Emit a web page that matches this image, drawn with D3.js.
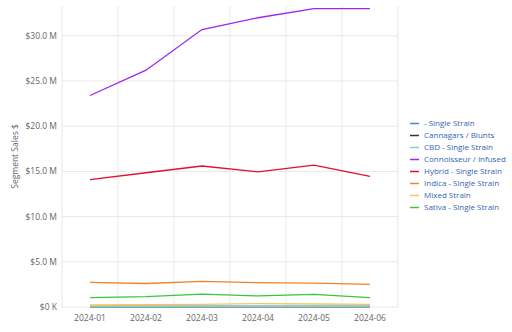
<!DOCTYPE html>
<html>
<head>
<meta charset="utf-8">
<script src="https://cdn.jsdelivr.net/npm/d3@7"></script>
<style>
  html, body { margin: 0; padding: 0; background: #fff; }
  svg { display: block; font-family: "Open Sans", sans-serif; }
</style>
</head>
<body>
<svg id="chart" width="512" height="332"></svg>
<script>
// Monthly segment sales (USD)
const months = ["2024-01", "2024-02", "2024-03", "2024-04", "2024-05", "2024-06"];
const segments = [
  "- Single Strain", "Cannagars / Blunts", "CBD - Single Strain", "Connoisseur / Infused",
  "Hybrid - Single Strain", "Indica - Single Strain", "Mixed Strain", "Sativa - Single Strain"
];
const singleStrain   = [0.10e6, 0.10e6, 0.10e6, 0.10e6, 0.10e6, 0.10e6];
const cannagars      = [0.02e6, 0.02e6, 0.02e6, 0.02e6, 0.02e6, 0.02e6];
const cbd            = [0.04e6, 0.04e6, 0.04e6, 0.04e6, 0.04e6, 0.04e6];
const connoisseur    = [23.4e6, 26.2e6, 30.7e6, 32.0e6, 33.0e6, 33.0e6];
const hybrid         = [14.1e6, 14.85e6, 15.6e6, 14.95e6, 15.7e6, 14.45e6];
const indica         = [2.72e6, 2.6e6, 2.83e6, 2.7e6, 2.65e6, 2.5e6];
const mixed          = [0.22e6, 0.25e6, 0.3e6, 0.38e6, 0.33e6, 0.3e6];
const sativa         = [1.03e6, 1.14e6, 1.42e6, 1.22e6, 1.39e6, 1.03e6];
const yTicks = [0, 5e6, 10e6, 15e6, 20e6, 25e6, 30e6];

const seriesValues = [singleStrain, cannagars, cbd, connoisseur, hybrid, indica, mixed, sativa];
const colors = ["#4a86d8", "#333333", "#7fd3c6", "#9b27f0", "#e0102e", "#f0832e", "#f5c851", "#3cc43c"];

const svg = d3.select("#chart");
const margin = { top: 6, left: 62, right: 398, bottom: 307 };

const x = d3.scaleBand().domain(months).range([margin.left, margin.right]);
const y = d3.scaleLinear().domain([0, 33.3e6]).range([margin.bottom, margin.top]);

// grid
const grid = svg.append("g");
grid.selectAll("line.h").data(yTicks).join("line")
  .attr("x1", margin.left).attr("x2", margin.right)
  .attr("y1", d => y(d)).attr("y2", d => y(d))
  .attr("stroke", "#e8e8e8").attr("stroke-width", 1);
const bounds = months.map(m => x(m)).concat([margin.right]);
grid.selectAll("line.v").data(bounds).join("line")
  .attr("x1", d => d).attr("x2", d => d)
  .attr("y1", margin.top).attr("y2", margin.bottom)
  .attr("stroke", "#e8e8e8").attr("stroke-width", 1);

// y axis labels
const fmt = d => d === 0 ? "$0 K" : "$" + (d / 1e6).toFixed(1) + " M";
svg.append("g").selectAll("text").data(yTicks).join("text")
  .attr("x", 57).attr("y", d => y(d)).attr("dy", "0.35em")
  .attr("text-anchor", "end").attr("font-size", 8.5).attr("fill", "#666")
  .text(fmt);

// x axis labels
svg.append("g").selectAll("text").data(months).join("text")
  .attr("x", d => x(d) + x.bandwidth() / 2).attr("y", 318).attr("dy", "0.35em")
  .attr("text-anchor", "middle").attr("font-size", 8.5).attr("fill", "#666")
  .text(d => d);

// y title
svg.append("text")
  .attr("transform", `translate(15,${(margin.top + margin.bottom) / 2}) rotate(-90)`)
  .attr("text-anchor", "middle").attr("dy", "0.35em")
  .attr("font-size", 8.5).attr("fill", "#666")
  .text("Segment Sales $");

// lines
const line = d3.line()
  .x((d, i) => x(months[i]) + x.bandwidth() / 2)
  .y(d => y(d));
svg.append("g").selectAll("path").data(seriesValues).join("path")
  .attr("d", d => line(d))
  .attr("fill", "none")
  .attr("stroke", (d, i) => colors[i])
  .attr("stroke-width", 1.3);

// legend
const legend = svg.append("g").selectAll("g").data(segments).join("g")
  .attr("transform", (d, i) => `translate(410,${123.5 + i * 12})`);
legend.append("line")
  .attr("x1", 0).attr("x2", 9).attr("y1", 0).attr("y2", 0)
  .attr("stroke", (d, i) => colors[i]).attr("stroke-width", 1.5);
legend.append("text")
  .attr("x", 14).attr("y", 0).attr("dy", "0.35em")
  .attr("font-size", 8).attr("fill", "#3465b0")
  .text(d => d);
</script>
</body>
</html>
